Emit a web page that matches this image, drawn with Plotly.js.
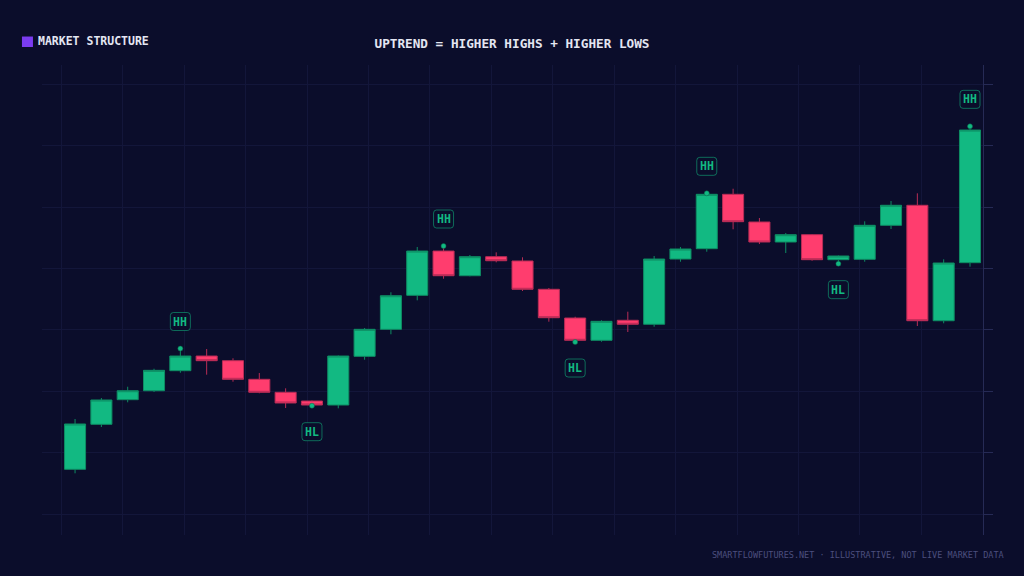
<!DOCTYPE html>
<html>
<head>
<meta charset="utf-8">
<script src="https://cdn.plot.ly/plotly-3.0.1.min.js"></script>
<style>
  html, body { margin: 0; padding: 0; background: #0b0d2b; }
  #chart { width: 1024px; height: 576px; }
</style>
</head>
<body>
<div id="chart"></div>
<script>
// candle values (illustrative, one candle per session)
var open  = [107.28, 114.61, 118.62, 120.08, 123.34, 125.73, 124.97, 121.94, 119.82, 118.40,
             117.75, 125.68, 130.08, 135.62, 142.83, 138.81, 141.91, 141.21, 136.60, 131.92,
             128.29, 131.55, 130.90, 141.53, 143.21, 152.07, 147.56, 144.30, 145.49, 141.42,
             141.48, 147.02, 150.28, 131.48, 140.93];
var high  = [115.47, 118.89, 120.73, 123.66, 126.95, 126.87, 125.36, 122.96, 120.47, 118.49,
             125.81, 130.29, 136.11, 143.49, 143.65, 142.18, 142.62, 141.81, 136.81, 132.13,
             131.55, 132.95, 142.02, 143.49, 152.23, 152.98, 148.21, 145.77, 145.60, 142.10,
             147.67, 150.98, 152.23, 141.48, 163.14];
var low   = [106.63, 114.17, 118.19, 119.87, 123.01, 122.69, 121.55, 119.66, 117.26, 117.64,
             117.21, 125.13, 129.27, 134.80, 138.32, 138.71, 140.99, 136.32, 131.32, 128.01,
             128.06, 129.64, 130.50, 141.09, 142.72, 146.37, 143.97, 142.51, 141.25, 140.77,
             141.09, 146.42, 130.62, 131.06, 140.28];
var close = [114.66, 118.57, 120.08, 123.40, 125.73, 124.97, 121.94, 119.82, 118.08, 117.75,
             125.73, 130.08, 135.55, 142.83, 138.81, 141.91, 141.25, 136.60, 131.97, 128.29,
             131.38, 130.90, 141.53, 143.16, 152.07, 147.61, 144.30, 145.49, 141.42, 142.02,
             147.02, 150.28, 131.48, 140.88, 162.54];

// swing points marked on the chart
var hhIdx = [4, 14, 24, 34];
var hlIdx = [9, 19, 29];

var session = open.map(function (v, i) { return i; });

var green = '#12b982';
var red = '#ff3d6e';
var bg = '#0b0d2b';
var grid = '#13163a';

var candles = {
    type: 'candlestick',
    x: session,
    open: open, high: high, low: low, close: close,
    increasing: {fillcolor: green, line: {color: '#0e8c63', width: 1}},
    decreasing: {fillcolor: red, line: {color: '#b82c56', width: 1}},
    whiskerwidth: 0,
    hoverinfo: 'none',
    showlegend: false
};

var dots = {
    type: 'scatter', mode: 'markers',
    x: hhIdx.concat(hlIdx),
    y: hhIdx.map(function (i) { return high[i]; }).concat(hlIdx.map(function (i) { return low[i]; })),
    marker: {color: green, size: 5, line: {color: '#0b5f46', width: 0.5}},
    hoverinfo: 'none',
    showlegend: false
};

// rounded tag box, in pixels around the swing point
function box(i, y, c) {
    var t = c - 9, b = c + 9;
    return {
        type: 'path', xref: 'x', yref: 'y',
        xsizemode: 'pixel', ysizemode: 'pixel', xanchor: i, yanchor: y,
        path: 'M -7,' + t + ' L 7,' + t + ' Q 10,' + t + ' 10,' + (t + 3) +
              ' L 10,' + (b - 3) + ' Q 10,' + b + ' 7,' + b +
              ' L -7,' + b + ' Q -10,' + b + ' -10,' + (b - 3) +
              ' L -10,' + (t + 3) + ' Q -10,' + t + ' -7,' + t + ' Z',
        fillcolor: bg, line: {color: 'rgba(18,185,130,0.55)', width: 1}
    };
}

function tag(text, i, y, shift) {
    return {
        x: i, y: y, xref: 'x', yref: 'y',
        text: text, showarrow: false, yshift: shift,
        font: {family: 'DejaVu Sans Mono', size: 11.5, color: green, weight: 'bold'}
    };
}

var shapes = [{
    type: 'rect', xref: 'paper', yref: 'paper',
    x0: -0.0213, x1: -0.0096, y0: 1.0383, y1: 1.0606,
    fillcolor: '#7b3cf0', line: {width: 0}
}];
var notes = [];
hhIdx.forEach(function (i) {
    shapes.push(box(i, high[i], 27));
    notes.push(tag('HH', i, high[i], 27));
});
hlIdx.forEach(function (i) {
    shapes.push(box(i, low[i], -26));
    notes.push(tag('HL', i, low[i], -26));
});

notes.push({
    xref: 'paper', yref: 'paper', x: -0.0068, y: 1.0505, xanchor: 'left', yanchor: 'middle',
    text: 'MARKET STRUCTURE', showarrow: false,
    font: {family: 'DejaVu Sans Mono', size: 11.5, color: '#e4e6f2', weight: 'bold'}
});
notes.push({
    xref: 'paper', yref: 'paper', x: 1.0244, y: -0.0426, xanchor: 'right', yanchor: 'middle',
    text: 'SMARTFLOWFUTURES.NET · ILLUSTRATIVE, NOT LIVE MARKET DATA', showarrow: false,
    font: {family: 'DejaVu Sans Mono', size: 8.5, color: '#4b4f7e'}
});

var layout = {
    width: 1024, height: 576,
    paper_bgcolor: bg, plot_bgcolor: bg,
    margin: {l: 42, r: 41, t: 65, b: 41},
    title: {
        text: 'UPTREND = HIGHER HIGHS + HIGHER LOWS',
        x: 0.5, xanchor: 'center', y: 0.9236, yanchor: 'middle',
        font: {family: 'DejaVu Sans Mono', size: 12.7, color: '#e4e6f2', weight: 'bold'}
    },
    xaxis: {
        range: [-1.256, 34.494],
        tick0: -0.515, dtick: 2.333,
        showgrid: true, gridcolor: grid, gridwidth: 1,
        zeroline: false, showline: false, showticklabels: false, ticks: '',
        rangeslider: {visible: false}, fixedrange: true
    },
    yaxis: {
        side: 'right',
        range: [96.58, 173.13],
        tick0: 100, dtick: 10,
        showgrid: true, gridcolor: grid, gridwidth: 1,
        zeroline: false,
        showline: true, linecolor: '#262a55', linewidth: 1,
        ticks: 'outside', ticklen: 9, tickcolor: '#262a55',
        showticklabels: false, fixedrange: true
    },
    boxgap: 0.2, boxgroupgap: 0,
    shapes: shapes,
    annotations: notes
};

Plotly.newPlot('chart', [candles, dots], layout, {displayModeBar: false, staticPlot: true});
</script>
</body>
</html>
